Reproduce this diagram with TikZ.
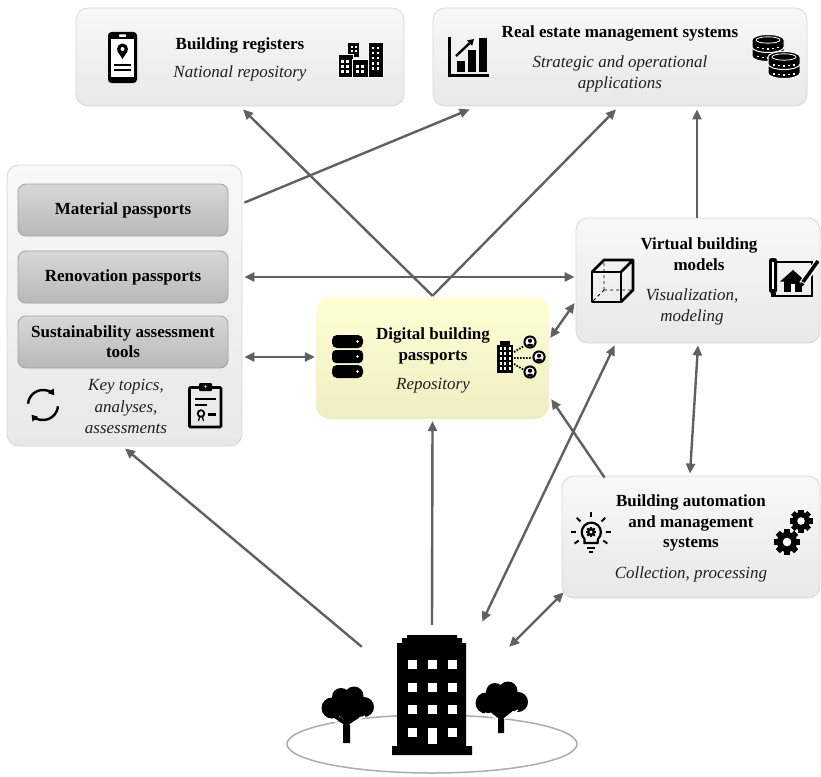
\documentclass[tikz,border=0pt]{standalone}
\usepackage{fontspec}
\setmainfont{Liberation Serif}
\usetikzlibrary{arrows.meta,calc}

\definecolor{arrowgray}{RGB}{96,96,96}
\definecolor{panelborder}{RGB}{214,214,214}
\definecolor{paneltop}{RGB}{248,248,248}
\definecolor{panelbot}{RGB}{232,232,232}
\definecolor{passtop}{RGB}{216,216,216}
\definecolor{passbot}{RGB}{184,184,184}
\definecolor{passborder}{RGB}{160,160,160}
\definecolor{dbptop}{RGB}{255,255,212}
\definecolor{dbpbot}{RGB}{238,238,194}
\definecolor{groundgray}{RGB}{172,172,172}

% small icon helpers
\newcommand\gearat[3]{%
  \begin{scope}[shift={(#1,#2)}]
    \fill (0,0) circle (#3*0.78);
    \foreach \a in {0,45,90,135} {\fill[rotate=\a] (-#3*0.22,-#3) rectangle (#3*0.22,#3);}
    \fill[white] (0,0) circle (#3*0.33);
  \end{scope}}
\newcommand\coinat[2]{%
  \fill[draw=white,line width=1pt] (#1-16,#2) -- (#1-16,#2+7)
     arc[start angle=180,end angle=0,x radius=16,y radius=5.5] -- (#1+16,#2)
     arc[start angle=0,end angle=-180,x radius=16,y radius=5.5] -- cycle;
  \draw[white,line width=0.8pt] (#1,#2) ellipse (12 and 3.2);
  \foreach \d/\e in {-10/7.8,-5/8.6,0/8.9,5/8.6,10/7.8} {\fill[white] (#1+\d-1.2,#2+\e-0.7) rectangle ++(2.4,1.4);}}
\newcommand\personat[2]{%
  \fill (#1,#2) circle (6.6);
  \fill[white] (#1,#2) circle (4.6);
  \begin{scope}
    \clip (#1,#2) circle (4.6);
    \fill (#1,#2-1.3) circle (2.1);
    \fill (#1,#2+4.4) ellipse (3.8 and 2.8);
  \end{scope}}

\tikzset{
  panel/.style={draw=panelborder, line width=0.8pt, rounded corners=12pt,
    top color=paneltop, bottom color=panelbot, inner sep=0pt},
  passbox/.style={draw=passborder, line width=0.8pt, rounded corners=8pt,
    top color=passtop, bottom color=passbot, minimum width=210pt, minimum height=52pt,
    font=\fontsize{17}{20}\selectfont\bfseries, align=center, inner sep=0pt},
  dbpbox/.style={rounded corners=14pt, top color=dbptop, bottom color=dbpbot, draw=none, inner sep=0pt},
  ttl/.style={font=\fontsize{17}{20.5}\selectfont\bfseries, align=center, text=black, inner sep=0pt},
  subt/.style={font=\fontsize{17}{21.5}\selectfont\itshape, align=center, text=black!88, inner sep=0pt},
  conn/.style={draw=arrowgray, line width=2.4pt, -{Triangle[length=10pt,width=9pt]}},
  conntwo/.style={draw=arrowgray, line width=2.4pt,
    {Triangle[length=10pt,width=9pt]}-{Triangle[length=10pt,width=9pt]}},
}

\begin{document}
\begin{tikzpicture}[x=1pt,y=-1pt]
\useasboundingbox (0,0) rectangle (821,776);

% ---------- boxes ----------
\node[panel, minimum width=328pt, minimum height=98pt] (br) at (240,57) {};
\node[panel, minimum width=374pt, minimum height=98pt] (re) at (620,57) {};
\node[panel, minimum width=235pt, minimum height=281pt] (lb) at (124.5,305.5) {};
\node[passbox] (mp) at (123,210) {Material passports};
\node[passbox] (rp) at (123,277) {Renovation passports};
\node[passbox] (sa) at (123,342) {Sustainability assessment\\tools};
\node[dbpbox, minimum width=233pt, minimum height=122pt] (dbp) at (432.5,358) {};
\node[panel, minimum width=244pt, minimum height=125pt] (vbm) at (698,280.5) {};
\node[panel, minimum width=258pt, minimum height=122pt] (bams) at (691,537) {};
\node[minimum width=80pt, minimum height=120pt, inner sep=0pt] (bld) at (432,695) {};

% ---------- texts ----------
\node[ttl] (brt) at (240,45) {Building registers};
\node[subt] (brs) at (240,73) {National repository};
\node[ttl] (ret) at (620,33) {Real estate management systems};
\node[subt] (res) at (620,74) {Strategic and operational\\applications};
\node[subt] (lbs) at (126,406.5) {Key topics,\\analyses,\\assessments};
\node[ttl] (dbpt) at (433,346) {Digital building\\passports};
\node[subt] (dbps) at (433,386) {Repository};
\node[ttl] (vbmt) at (699,254) {Virtual building\\models};
\node[subt] (vbms) at (692,307) {Visualization,\\modeling};
\node[ttl] (bamst) at (691,523) {Building automation\\and management\\systems};
\node[subt] (bamss) at (691,574) {Collection, processing};

% ---------- connectors ----------
\draw[conn] ($(lb.north east)+(2,38)$) -- ($(re.south west)+(37,3)$);
\draw[conn] ($(dbp.north)+(0,-1)$) -- ($(br.south)+(3,3)$);
\draw[conn] ($(dbp.north)+(0,-1)$) -- ($(re.south)+(-4,3)$);
\draw[conntwo] ($(lb.east)+(2,-28.5)$) -- ($(vbm.west)+(-1,-3.5)$);
\draw[conntwo] ($(lb.east)+(2,51.5)$) -- ($(dbp.west)+(-1,-1)$);
\draw[conntwo] ($(dbp.east)+(1,-20)$) -- ($(vbm.west)+(-1,22.5)$);
\draw[conn] ($(vbm.north)+(-1,0)$) -- ($(re.south)+(77,3)$);
\draw[conntwo] ($(vbm.south)+(0,2)$) -- ($(bams.north)+(-1,-2)$);
\draw[conn] ($(bams.north west)+(43,2)$) -- ($(dbp.south east)+(2,-20)$);
\draw[conn] ($(bld.north west)+(-30,12)$) -- ($(lb.south)+(0.5,2)$);
\draw[conn] ($(bld.north)+(0,-10)$) -- ($(dbp.south)+(0,2)$);
\draw[conntwo] ($(bld.north east)+(10,-13)$) -- ($(vbm.south west)+(39,2)$);
\draw[conntwo] ($(bld.north east)+(37,12)$) -- ($(bams.south west)+(2,-6)$);

% ---------- icons ----------
% phone with location pin
\fill[rounded corners=3.5pt] (108,32) rectangle (137,83);
\fill[white] (111,39) rectangle (134,76.5);
\fill[white,rounded corners=0.7pt] (119,34.3) rectangle (126,36.8);
\fill (122.5,49) circle (5.5);
\fill (117.4,51.2) -- (122.5,59) -- (127.6,51.2) -- cycle;
\fill[white] (122.5,49) circle (2);
\draw[line width=2pt] (114,64.5) -- (131,64.5) (114,70) -- (131,70);

% city buildings
\fill (348,43) rectangle (359,57);
\fill[draw=white,line width=1pt] (338,55) rectangle (353,77);
\fill[draw=white,line width=1pt] (352,60) rectangle (368,77);
\fill[draw=white,line width=1pt] (368,43) rectangle (383,77);
\foreach \px in {350.5,354.5} \foreach \py in {46,50} {\fill[white] (\px,\py) rectangle ++(2.5,2.5);}
\foreach \px in {341,346} \foreach \py in {60,65,70} {\fill[white] (\px,\py) rectangle ++(2.5,2.5);}
\foreach \px in {356,361} \foreach \py in {65,70} {\fill[white] (\px,\py) rectangle ++(2.5,2.5);}
\foreach \px in {371.5,376.5} \foreach \py in {47,52,57,62,67} {\fill[white] (\px,\py) rectangle ++(2.5,2.5);}

% bar chart
\fill (448,37) rectangle (451,77);
\fill (448,74) rectangle (489,77);
\fill (457,61) rectangle (465,72);
\fill (468,50) rectangle (476,72);
\fill (479,38) rectangle (487,72);
\draw[line width=2.4pt,-{Triangle[length=6pt,width=7pt]}] (456,56) -- (474,39);

% coins
\coinat{768}{49}
\coinat{768}{40}
\coinat{784}{66}
\coinat{784}{57}

% cycle arrows
\draw[line width=2.4pt,-{Triangle[length=6pt,width=7pt]}] ($(43,405)+(-175:15)$) arc[start angle=-175,end angle=-40,radius=15];
\draw[line width=2.4pt,-{Triangle[length=6pt,width=7pt]}] ($(43,405)+(5:15)$) arc[start angle=5,end angle=140,radius=15];

% clipboard certificate
\draw[line width=2.6pt,rounded corners=1pt] (189.5,387.5) rectangle (221,427);
\fill[rounded corners=1pt] (199,383) rectangle (212,391);
\fill[white] (205.5,386.5) circle (1.1);
\draw[line width=2.2pt] (195,399) -- (216,399) (195,405) -- (207,405);
\draw[line width=1.8pt] (201,413.5) circle (3.3);
\draw[line width=1.3pt] (199.5,417) -- (198.5,421) (202.5,417) -- (203.5,421);
\draw[line width=2.2pt] (208,414.5) -- (216,414.5);

% database
\fill[rounded corners=5pt] (332,335) rectangle (363,348);
\fill[rounded corners=4pt] (332,350) rectangle (363,363);
\fill[rounded corners=5pt] (332,365) rectangle (363,378);
\foreach \py in {341.5,356.5,371.5} {\fill[white] (357.5,\py) circle (1.3);}

% office with people
\fill (497,345) rectangle (513,373);
\fill (500,341) rectangle (510,345);
\foreach \px in {499.5,504,508.5} \foreach \py in {347,352,357,362,367} {\fill[white] (\px,\py) rectangle ++(2,2.5);}
\draw[line width=1.8pt,dash pattern=on 1.6pt off 1.4pt] (514,352) -- (524,346) (514,358) -- (532,358) (514,364) -- (524,370);
\personat{530}{342}
\personat{539}{357}
\personat{530}{372}

% cube
\draw[line width=0.9pt,dashed] (604,290) -- (604,261) (604,290) -- (593,301) (604,290) -- (632,290);
\draw[line width=2.8pt,line join=round] (592,272) rectangle (621,302);
\draw[line width=2.8pt,line join=round] (592,272) -- (604,260) -- (633,260) -- (633,290) -- (621,302) (621,272) -- (633,260);

% blueprint with house and pencil
\draw[line width=2.6pt] (775,262) -- (812,262) -- (812,296) -- (775,296);
\fill[rounded corners=2.5pt] (769,258) rectangle (777,293);
\fill[white] (771.8,262) rectangle (774.2,289);
\fill (771,293) rectangle (776,297.3);
\fill (780,281.5) -- (793,270) -- (806,281.5) -- cycle;
\fill (784,280) rectangle (802,292);
\fill[white] (791,284) rectangle (795,292);
\draw[white,line width=6.5pt] (802,284) -- (817,263);
\draw[line width=3.6pt] (803,282) -- (818,261);
\fill (800.5,287.5) -- (801,282) -- (804.5,284.5) -- cycle;

% light bulb with gear
\draw[line width=2.2pt] (584.5,543) -- (584.5,539) arc[start angle=135,end angle=405,radius=9.6] -- (597.5,543) -- cycle;
\draw[line width=2pt] (587,547.5) -- (595,547.5) (589,551.5) -- (593,551.5);
\gearat{591}{532}{5.2}
\foreach \ang in {-90,-45,-135,0,180,35,145} {\draw[line width=2pt] ($(591,532)+(\ang:15)$) -- ($(591,532)+(\ang:20)$);}

% gears
\gearat{801}{521}{11.5}
\gearat{787}{542}{13}

% ---------- ground, building, trees ----------
\draw[groundgray,line width=1.5pt] (432,744) ellipse (145 and 29);

\fill (407,635) -- (457,635) -- (457,638) -- (462,638) -- (462,643) -- (466,643) -- (466,746)
  -- (472,746) -- (472,755) -- (392,755) -- (392,746) -- (397,746) -- (397,643) -- (402,643)
  -- (402,638) -- (407,638) -- cycle;
\foreach \px in {408,428,448} \foreach \py in {660,683,705,728} {\fill[white] (\px,\py) rectangle ++(8.5,8.5);}
\fill[white] (428,728) rectangle (436.5,744);

% left tree
\fill (332,708) circle (10.5) (341,697) circle (9) (354,696) circle (9.5) (364,707) circle (10) (348,709) circle (11);
\fill (343,743) -- (343,724) -- (333,717) -- (336,714.5) -- (344,719.5) -- (345,714) -- (349,714)
  -- (349,719.5) -- (359,713) -- (361,716) -- (350,724) -- (350,743) -- cycle;
\draw[white,line width=1.4pt] (329,719) -- (343,725) (365,716) -- (350,725);

% right tree
\fill (486,703) circle (10.5) (495,692) circle (9) (508,691) circle (9.5) (518,702) circle (10) (502,704) circle (11);
\fill (498,733) -- (498,718) -- (489,711) -- (491,708.5) -- (499,713.5) -- (500,708) -- (503,708)
  -- (503,713.5) -- (512,707) -- (514,710) -- (504,718) -- (504,733) -- cycle;
\draw[white,line width=1.4pt] (485,713) -- (498,719) (518,710) -- (504,719);
\end{tikzpicture}
\end{document}
